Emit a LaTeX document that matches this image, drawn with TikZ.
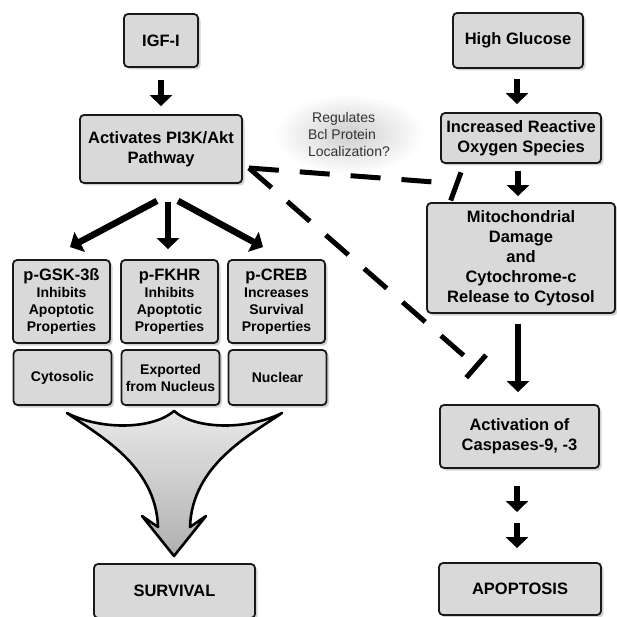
\documentclass[tikz,border=0pt]{standalone}
\usepackage{fontspec}
\setmainfont{Liberation Sans}
\usetikzlibrary{arrows.meta,shadows,shapes.geometric}
\definecolor{boxgray}{HTML}{D9D9D9}

\begin{document}
\begin{tikzpicture}[x=1pt,y=-1pt,
  box/.style={draw=black!90,line width=1.8pt,rounded corners=4pt,fill=boxgray,
    drop shadow={shadow xshift=2.5pt,shadow yshift=-2.5pt,opacity=0.35},
    align=center,inner sep=2pt,font=\fontsize{16.5}{20}\selectfont\bfseries},
  smallbox/.style={box,font=\fontsize{14}{17}\selectfont\bfseries},
  bigarrow/.style={line width=6.5pt,-{Triangle[length=11pt,width=22pt]}},
  dashline/.style={line width=5pt,dash pattern=on 30pt off 21pt}]
  \useasboundingbox (0,0) rectangle (616,617);
  \node[box,minimum width=74pt,minimum height=53pt] (igf) at (161,40.5) {IGF-I};
  \node[box,minimum width=130pt,minimum height=55pt] (hg) at (518,40.5) {High Glucose};
  \node[box,minimum width=162pt,minimum height=68pt] (pi3k) at (161,149) {Activates PI3K/Akt\\Pathway};
  \node[box,minimum width=160pt,minimum height=50pt] (ros) at (521,138) {Increased Reactive\\Oxygen Species};
  \node[box,minimum width=188pt,minimum height=110pt] (mito) at (521,258)
    {Mitochondrial\\Damage\\and\\Cytochrome-c\\Release to Cytosol};
  \node[box,minimum width=159pt,minimum height=63pt] (casp) at (519.5,436.5) {Activation of\\Caspases-9, -3};
  \node[box,minimum width=162pt,minimum height=52pt] (apop) at (520,589) {APOPTOSIS};
  \node[box,minimum width=161pt,minimum height=54pt] (surv) at (174.5,591) {SURVIVAL};
  \node[smallbox,minimum width=97pt,minimum height=83pt] (gsk) at (61.5,301.5)
    {{\fontsize{16.5}{20}\selectfont p-GSK-3ß}\\Inhibits\\Apoptotic\\Properties};
  \node[smallbox,minimum width=97pt,minimum height=83pt] (fkhr) at (169.5,301.5)
    {{\fontsize{16.5}{20}\selectfont p-FKHR}\\Inhibits\\Apoptotic\\Properties};
  \node[smallbox,minimum width=97pt,minimum height=83pt] (creb) at (276.5,301.5)
    {{\fontsize{16.5}{20}\selectfont p-CREB}\\Increases\\Survival\\Properties};
  \node[smallbox,minimum width=98pt,minimum height=55pt] (cyto) at (62.5,377.5) {Cytosolic};
  \node[smallbox,minimum width=98pt,minimum height=55pt] (expo) at (170.5,377.5) {Exported\\from Nucleus};
  \node[smallbox,minimum width=98pt,minimum height=55pt] (nucl) at (277.5,377.5) {Nuclear};
  \node[ellipse,minimum width=150pt,minimum height=80pt,inner sep=0pt,inner color=gray!38,
    outer color=white,align=left,text=black!80,font=\fontsize{14}{17}\selectfont] (bcl) at (349,134)
    {\hspace{4pt}Regulates\\Bcl Protein\\Localization?};
  \draw[bigarrow,shorten <=12pt,shorten >=8pt] (igf.south) -- (pi3k.north);
  \draw[bigarrow,shorten <=10pt,shorten >=8pt] ([xshift=-1pt]hg.south) -- ([xshift=-1pt]hg.south |- ros.north);
  \draw[bigarrow,shorten <=7pt,shorten >=6pt] (ros.south -| hg.south) -- (mito.north -| hg.south);
  \draw[bigarrow,shorten <=10pt,shorten >=12pt] (mito.south -| hg.south) -- (casp.north -| hg.south);
  \coordinate (mid) at (517,517);
  \draw[bigarrow,shorten <=17pt,shorten >=5pt] (casp.south -| mid) -- (mid);
  \draw[bigarrow,shorten <=6pt,shorten >=14pt] (mid) -- (apop.north -| mid);
  \draw[bigarrow] ([shift={(-4pt,-17pt)}]pi3k.south) -- ([shift={(8.5pt,12pt)}]gsk.north);
  \draw[bigarrow] ([shift={(7pt,-18pt)}]pi3k.south) -- ([shift={(-1.5pt,10pt)}]fkhr.north);
  \draw[bigarrow] ([shift={(17pt,-17pt)}]pi3k.south) -- ([shift={(-13.5pt,12pt)}]creb.north);
  \coordinate (meet) at ([shift={(6pt,-19pt)}]pi3k.east);
  \coordinate (jn) at (447,183);
  \coordinate (inh) at (478,368);
  \draw[dashline] (meet) -- (jn);
  \draw[dashline,dash phase=42pt] ([xshift=24pt]ros.south west) -- ([xshift=24pt]mito.north west);
  \draw[dashline,-{Bar[width=30pt]}] (meet) -- (inh);
  \draw[line width=2.6pt,line join=round,top color=gray!18,bottom color=gray!62]
    (67,413) .. controls (100,430) and (152,430) .. (174,411)
    .. controls (196,430) and (248,430) .. (282,413)
    .. controls (250,435) and (192,465) .. (190,527)
    -- (206,516) -- (174,556) -- (142,516) -- (158,527)
    .. controls (156,465) and (98,435) .. (67,413) -- cycle;
\end{tikzpicture}
\end{document}
